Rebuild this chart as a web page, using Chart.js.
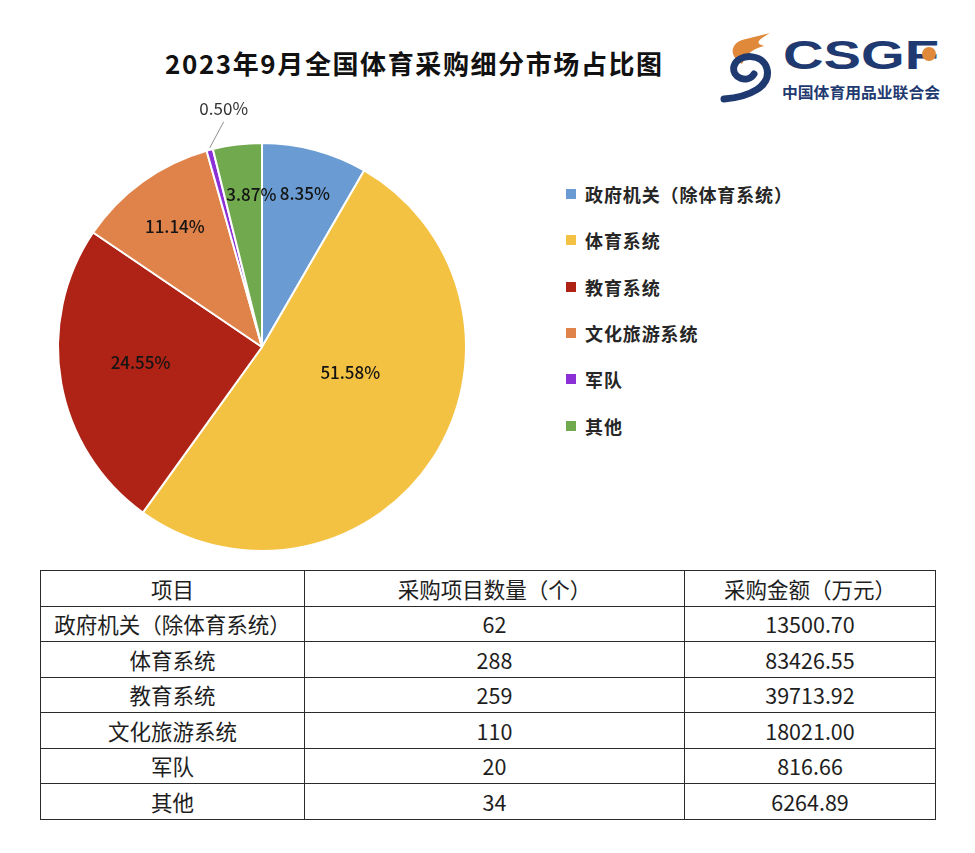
<!DOCTYPE html>
<html>
<head>
<meta charset="utf-8">
<script src="https://cdn.jsdelivr.net/npm/chart.js@4/dist/chart.umd.min.js"></script>
<style>
  body { margin: 0; background: #fff; width: 975px; height: 853px; position: relative; overflow: hidden;
         font-family: "Noto Sans CJK SC", "Noto Sans", sans-serif; color: #1a1a1a; }
  #title { position: absolute; left: 165px; top: 44px; font-size: 26px; font-weight: bold; letter-spacing: 1.6px; white-space: nowrap; color: #111; }
  #pie { position: absolute; left: 0; top: 90px; }
  #legend { position: absolute; left: 566px; top: 171px; }
  .lg { display: flex; align-items: center; height: 46.3px; font-size: 18px; font-weight: bold; letter-spacing: 0.9px; color: #262626; white-space: nowrap; }
  .lg i { display: inline-block; width: 10px; height: 10px; margin-right: 9px; }
  #logo { position: absolute; left: 715px; top: 25px; }
  table { position: absolute; left: 40px; top: 570px; border-collapse: collapse; table-layout: fixed; }
  td { border: 1.5px solid #2b2b2b; height: 34.5px; padding: 0; text-align: center; font-size: 21.5px; color: #1e1e1e; white-space: nowrap; line-height: 1; }
</style>
</head>
<body>
<div id="title">2023年9月全国体育采购细分市场占比图</div>

<svg id="logo" width="240" height="85" viewBox="715 25 240 85">
  <path d="M742 64 C728 56 730 42 746 39 L770 33 C760 39 753 43 764 46 C752 49 746 54 742 64 Z" fill="#e0893a"/>
  <path d="M724 99 C750 97 771 86 767 69 C763 53 738 53 734 66 C731 78 748 84 754 74" fill="none" stroke="#1f3a70" stroke-width="7" stroke-linecap="round"/>
  <text x="783" y="69" font-family="Liberation Sans" font-weight="bold" font-size="40" fill="#1f3a70" textLength="156" lengthAdjust="spacingAndGlyphs">CSGF</text>
  <circle cx="929" cy="54" r="7" fill="#e0893a"/>
  <text x="782" y="98" font-family="Noto Sans CJK SC" font-weight="bold" font-size="15" fill="#1f3a70" textLength="158" lengthAdjust="spacingAndGlyphs">中国体育用品业联合会</text>
</svg>

<canvas id="pie" width="530" height="480"></canvas>
<div id="legend"></div>
<table id="tbl"></table>

<script>
// data
const categories = ['政府机关（除体育系统）', '体育系统', '教育系统', '文化旅游系统', '军队', '其他'];
const projectCounts = [62, 288, 259, 110, 20, 34];
const amounts = [13500.70, 83426.55, 39713.92, 18021.00, 816.66, 6264.89];
const headers = ['项目', '采购项目数量（个）', '采购金额（万元）'];

const sliceColors = ['#6a9bd2', '#f4c243', '#ae2316', '#e0834a', '#8b2fd6', '#71a94f'];

const total = amounts.reduce((a, b) => a + b, 0);
const pct = i => (amounts[i] / total * 100).toFixed(2) + '%';

// where each percent label sits (fraction of radius, angle nudge in degrees)
const labelPlace = [
  { f: 0.78, da: 0.6 },
  { f: 0.45, da: -17 },
  { f: 0.60, da: 3 },
  { f: 0.73, da: 0 },
  { outside: true, lx: 14, ly: -28, tx: 14, ty: -41 },
  { f: 0.75, da: 3 }
];

const pieLabels = {
  id: 'pieLabels',
  afterDatasetsDraw(chart) {
    const ctx = chart.ctx;
    chart.getDatasetMeta(0).data.forEach((arc, i) => {
      const { x, y, startAngle, endAngle, outerRadius } =
        arc.getProps(['x', 'y', 'startAngle', 'endAngle', 'outerRadius'], true);
      const mid = (startAngle + endAngle) / 2;
      const p = labelPlace[i];
      ctx.save();
      ctx.font = '500 17px "Noto Sans CJK SC"';
      ctx.textAlign = 'center';
      ctx.textBaseline = 'middle';
      ctx.fillStyle = '#141414';
      if (p.outside) {
        const ex = x + Math.cos(mid) * outerRadius;
        const ey = y + Math.sin(mid) * outerRadius;
        ctx.strokeStyle = '#8e8e8e';
        ctx.lineWidth = 1;
        ctx.beginPath();
        ctx.moveTo(ex, ey - 2);
        ctx.lineTo(ex + p.lx, ey + p.ly);
        ctx.stroke();
        ctx.font = '17px "Noto Sans CJK SC"';
        ctx.fillStyle = '#333';
        ctx.fillText(pct(i), ex + p.tx, ey + p.ty);
      } else {
        const a = mid + p.da * Math.PI / 180;
        const r = outerRadius * p.f;
        ctx.fillText(pct(i), x + Math.cos(a) * r, y + Math.sin(a) * r);
      }
      ctx.restore();
    });
  }
};

new Chart(document.getElementById('pie'), {
  type: 'pie',
  data: {
    labels: categories,
    datasets: [{
      data: amounts,
      backgroundColor: sliceColors,
      borderColor: '#ffffff',
      borderWidth: 2
    }]
  },
  options: {
    responsive: false,
    animation: false,
    layout: { padding: { left: 57, right: 63, top: 52, bottom: 18 } },
    plugins: { legend: { display: false }, tooltip: { enabled: false } }
  },
  plugins: [pieLabels]
});

// legend
const legend = document.getElementById('legend');
categories.forEach((c, i) => {
  const row = document.createElement('div');
  row.className = 'lg';
  row.innerHTML = '<i style="background:' + sliceColors[i] + '"></i>' + c;
  legend.appendChild(row);
});

// table
const tbl = document.getElementById('tbl');
const colWidths = [264, 380, 251];
let html = '<colgroup>' + colWidths.map(w => '<col style="width:' + w + 'px">').join('') + '</colgroup>';
html += '<tr>' + headers.map(h => '<td>' + h + '</td>').join('') + '</tr>';
categories.forEach((c, i) => {
  html += '<tr><td>' + c + '</td><td>' + projectCounts[i] + '</td><td>' + amounts[i].toFixed(2) + '</td></tr>';
});
tbl.innerHTML = html;
</script>
</body>
</html>
